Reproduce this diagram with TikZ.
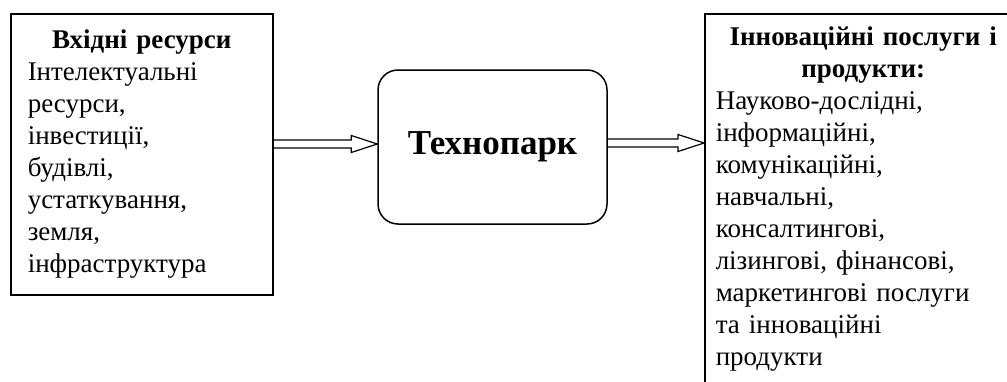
\documentclass[tikz,border=0pt]{standalone}
\usepackage{fontspec}
\setmainfont{Liberation Serif}
\usetikzlibrary{calc}

\tikzset{
  sidebox/.style={draw, line width=1.5pt, anchor=north west, align=left,
    inner ysep=0pt, font=\fontsize{27}{32}\selectfont},
  parkbox/.style={draw, line width=1.5pt, rounded corners=20pt,
    minimum width=229pt, minimum height=154pt,
    font=\fontsize{35}{42}\selectfont\bfseries},
  arrowline/.style={line width=1.2pt}
}

\newcommand{\hollowarrow}[2]{%
  \draw[arrowline] ($(#1)+(0,4)$) -- ($(#2)+(-26,4)$) -- ($(#2)+(-26,8.5)$) -- (#2)
    -- ($(#2)+(-26,-8.5)$) -- ($(#2)+(-26,-4)$) -- ($(#1)+(0,-4)$);
}

\begin{document}
\begin{tikzpicture}[x=1pt, y=1pt]
    \useasboundingbox (0,0) rectangle (1007,-381);
    \clip (0,0) rectangle (1007,-381);

    \node[sidebox, text width=228pt, inner xsep=17pt, minimum height=281pt] (inbox) at (10,-13)
        {{\centering\bfseries Вхідні ресурси\par}
         Інтелектуальні\\ ресурси,\\ інвестиції,\\ будівлі,\\ устаткування,\\ земля,\\ інфраструктура};

    \node[parkbox] (park) at (492.5,-147) {Технопарк};

    \node[sidebox, text width=295pt, inner xsep=11pt, minimum height=370pt] (outbox) at (704,-13)
        {{\centering\bfseries Інноваційні послуги і\\ продукти:\par}
         Науково-дослідні,\\ інформаційні,\\ комунікаційні,\\ навчальні,\\ консалтингові,\\
         лізингові, фінансові,\\ маркетингові послуги\\ та інноваційні\\ продукти};

    \coordinate (intip) at ($(park.west)+(0,3)$);
    \coordinate (intail) at (inbox.east |- intip);
    \coordinate (outtail) at ($(park.east)+(0,4)$);
    \coordinate (outtip) at (outbox.west |- outtail);

    \hollowarrow{intail}{intip}
    \hollowarrow{outtail}{outtip}
\end{tikzpicture}
\end{document}
